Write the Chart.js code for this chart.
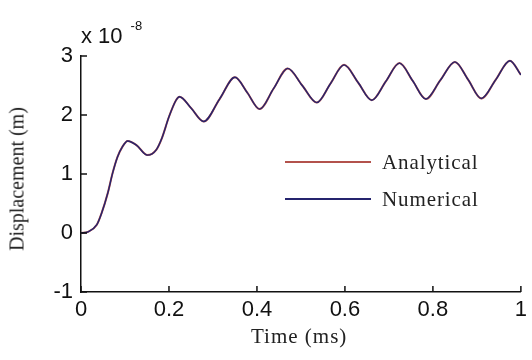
<!DOCTYPE html>
<html>
<head>
<meta charset="utf-8">
<script src="https://cdn.jsdelivr.net/npm/chart.js@4.4.1/dist/chart.umd.min.js"></script>
<style>
    html, body { margin: 0; padding: 0; background: #ffffff; }
    #wrap { position: relative; width: 532px; height: 360px; }
    #exp { position: absolute; left: 81px; top: 23px; font-family: "Liberation Sans", Arial, sans-serif; font-size: 22px; color: #111; }
    #exp sup { font-size: 13px; position: relative; top: -5px; margin-left: 8px; }
    .serif { font-family: "Liberation Serif", "Times New Roman", serif; color: #222; position: absolute; white-space: nowrap; }
    .leg { left: 285px; font-size: 21px; letter-spacing: 0.9px; }
    .leg span { display: inline-block; width: 86px; height: 0; vertical-align: middle; margin-right: 11px; position: relative; top: -2px; }
    #xtitle { left: 251px; top: 324px; font-size: 21px; letter-spacing: 1px; }
    #ytitle { left: 17px; top: 179px; font-size: 20px; transform: translate(-50%, -50%) rotate(-90deg); }
</style>
</head>
<body>
<div id="wrap">
    <canvas id="chart" width="532" height="360"></canvas>
    <div id="exp">x 10<sup>-8</sup></div>
    <div class="serif leg" style="top:150px"><span style="border-top:2px solid #b3524c"></span>Analytical</div>
    <div class="serif leg" style="top:187px"><span style="border-top:2px solid #25246e"></span>Numerical</div>
    <div class="serif" id="xtitle">Time (ms)</div>
    <div class="serif" id="ytitle">Displacement (m)</div>
</div>
<script>
// time in ms, displacement in units of 1e-8 m
time = [0, 0.016, 0.036, 0.047, 0.061, 0.072, 0.083, 0.094, 0.106, 0.126, 0.151, 0.171, 0.184, 0.2, 0.216, 0.224, 0.25, 0.279, 0.315, 0.35, 0.378, 0.406, 0.438, 0.47, 0.503, 0.536, 0.567, 0.598, 0.63, 0.661, 0.693, 0.724, 0.754, 0.784, 0.817, 0.85, 0.88, 0.91, 0.943, 0.975, 1.0]
analytical = [0, 0.02, 0.14, 0.34, 0.68, 1.02, 1.29, 1.46, 1.56, 1.49, 1.32, 1.41, 1.61, 1.97, 2.25, 2.31, 2.12, 1.89, 2.27, 2.64, 2.38, 2.10, 2.45, 2.79, 2.50, 2.21, 2.53, 2.85, 2.55, 2.25, 2.57, 2.88, 2.58, 2.27, 2.59, 2.90, 2.60, 2.28, 2.60, 2.92, 2.68]
numerical = [0, 0.02, 0.14, 0.34, 0.68, 1.02, 1.29, 1.46, 1.56, 1.49, 1.32, 1.41, 1.61, 1.97, 2.25, 2.31, 2.12, 1.89, 2.27, 2.64, 2.38, 2.10, 2.45, 2.79, 2.50, 2.21, 2.53, 2.85, 2.55, 2.25, 2.57, 2.88, 2.58, 2.27, 2.59, 2.90, 2.60, 2.28, 2.60, 2.92, 2.68]

xTicks = [0, 0.2, 0.4, 0.6, 0.8, 1]
yTicks = [-1, 0, 1, 2, 3]

function toPoints(ys) {
    return ys.map((y, i) => ({ x: time[i], y: y }))
}

// matlab style ticks pointing into the plot
const inwardTicks = {
    id: 'inwardTicks',
    afterDraw(chart) {
        const ctx = chart.ctx
        const area = chart.chartArea
        const xs = chart.scales.x
        const ys = chart.scales.y
        ctx.save()
        ctx.strokeStyle = '#111'
        ctx.lineWidth = 1.5
        ctx.beginPath()
        xTicks.forEach(v => {
            const px = xs.getPixelForValue(v)
            ctx.moveTo(px, area.bottom)
            ctx.lineTo(px, area.bottom - 6)
        })
        yTicks.forEach(v => {
            const py = ys.getPixelForValue(v)
            ctx.moveTo(area.left, py)
            ctx.lineTo(area.left + 6, py)
        })
        ctx.stroke()
        ctx.restore()
    }
}

new Chart(document.getElementById('chart'), {
    type: 'line',
    data: {
        datasets: [{
            label: 'Numerical',
            data: toPoints(numerical),
            borderColor: '#25246e',
            borderWidth: 1.4,
            pointRadius: 0,
            cubicInterpolationMode: 'monotone'
        }, {
            label: 'Analytical',
            data: toPoints(analytical),
            borderColor: '#b3524c',
            borderWidth: 2,
            pointRadius: 0,
            cubicInterpolationMode: 'monotone'
        }]
    },
    plugins: [inwardTicks],
    options: {
        responsive: false,
        animation: false,
        events: [],
        layout: { padding: { top: 56, right: 5, left: 0, bottom: 0 } },
        scales: {
            x: {
                type: 'linear',
                min: 0,
                max: 1,
                afterBuildTicks: s => { s.ticks = xTicks.map(v => ({ value: v })) },
                afterFit: s => { s.height = 68 },
                grid: { display: false, drawTicks: false },
                border: { display: true, color: '#111', width: 1.5 },
                ticks: {
                    color: '#111',
                    padding: 5,
                    maxRotation: 0,
                    font: { family: 'Liberation Sans', size: 22 },
                    callback: v => String(v)
                }
            },
            y: {
                min: -1,
                max: 3,
                afterBuildTicks: s => { s.ticks = yTicks.map(v => ({ value: v })) },
                afterFit: s => { s.width = 81 },
                grid: { display: false, drawTicks: false },
                border: { display: true, color: '#111', width: 1.5 },
                ticks: {
                    color: '#111',
                    padding: 8,
                    font: { family: 'Liberation Sans', size: 22 }
                }
            }
        },
        plugins: {
            legend: { display: false },
            tooltip: { enabled: false }
        }
    }
})
</script>
</body>
</html>
